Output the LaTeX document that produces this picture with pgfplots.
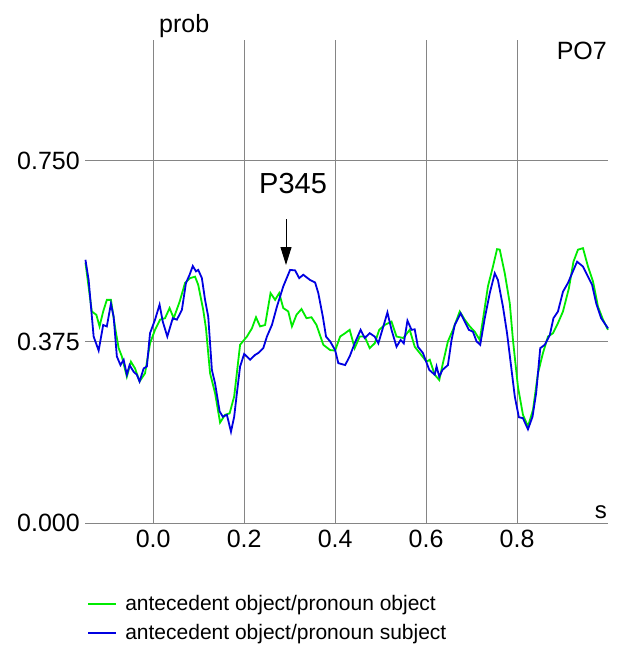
\documentclass[border=0pt]{standalone}
\usepackage{fontspec}
\setmainfont{Liberation Sans}
\usepackage{pgfplots}
\pgfplotsset{compat=1.18}
\usetikzlibrary{arrows.meta}
\definecolor{cgreen}{RGB}{0,235,0}
\definecolor{cblue}{RGB}{0,0,225}
\begin{document}
\begin{tikzpicture}[x=1pt,y=1pt]
\useasboundingbox (0,0) rectangle (620,-645);
\begin{axis}[
  at={(85pt,-523pt)}, anchor=south west,
  scale only axis, width=523pt, height=483pt,
  xmin=-0.15, xmax=1.0, ymin=0, ymax=1.0,
  axis line style={draw=none},
  xtick={0.2,0.4,0.6,0.8}, xticklabels={0.2,0.4,0.6,0.8},
  extra x ticks={0}, extra x tick labels={0.0},
  extra x tick style={grid style={color=black!62, line width=1pt}},
  ytick={0,0.375,0.75}, yticklabels={0.000,0.375,0.750},
  xmajorgrids, ymajorgrids,
  major grid style={color=black!48, line width=0.9pt},
  major tick length=0pt, tick style={draw=none},
  xticklabel style={font=\fontsize{25}{28}\selectfont, inner sep=0pt, anchor=north, yshift=-7pt},
  yticklabel style={font=\fontsize{25}{28}\selectfont, inner sep=0pt, anchor=east, xshift=-5pt},
  clip=false,
  legend cell align=left,
  legend image code/.code={\draw[#1] (0pt,0pt) -- (28pt,0pt);},
  legend style={at={(0.004,-0.15)}, anchor=north west, draw=none, fill=none,
    inner sep=0pt, row sep=12pt, font=\fontsize{21}{25}\selectfont,
    nodes={inner sep=0pt}, /tikz/every odd column/.append style={column sep=8pt}},
]
\addlegendimage{draw=cgreen, line width=2pt}
\addlegendentry{antecedent object/pronoun object}
\addlegendimage{draw=cblue, line width=2pt}
\addlegendentry{antecedent object/pronoun subject}
\addplot[cgreen, line width=1.8pt, forget plot] coordinates {
(-0.149,0.539) (-0.135,0.438) (-0.125,0.431) (-0.118,0.407) (-0.110,0.438) (-0.102,0.462) (-0.093,0.462)
(-0.083,0.400) (-0.076,0.362) (-0.069,0.345) (-0.058,0.303) (-0.049,0.334) (-0.040,0.320) (-0.030,0.293)
(-0.018,0.310) (-0.007,0.372) (0.004,0.400) (0.015,0.421) (0.026,0.424) (0.036,0.445) (0.045,0.424)
(0.058,0.458) (0.070,0.497) (0.081,0.507) (0.092,0.510) (0.099,0.493) (0.110,0.441) (0.116,0.403)
(0.125,0.310) (0.136,0.269) (0.147,0.208) (0.158,0.224) (0.168,0.227) (0.178,0.262) (0.191,0.369)
(0.206,0.386) (0.217,0.403) (0.226,0.426) (0.235,0.407) (0.246,0.410) (0.258,0.476) (0.268,0.462)
(0.277,0.476) (0.286,0.445) (0.297,0.438) (0.305,0.407) (0.315,0.431) (0.326,0.443) (0.337,0.424)
(0.348,0.426) (0.359,0.410) (0.374,0.369) (0.389,0.358) (0.400,0.357) (0.411,0.386) (0.422,0.393)
(0.432,0.400) (0.443,0.362) (0.454,0.386) (0.465,0.386) (0.476,0.362) (0.487,0.372) (0.497,0.400)
(0.509,0.410) (0.524,0.417) (0.535,0.386) (0.550,0.383) (0.564,0.400) (0.575,0.365) (0.586,0.352)
(0.601,0.334) (0.608,0.338) (0.619,0.307) (0.629,0.296) (0.637,0.331) (0.648,0.376) (0.659,0.400)
(0.674,0.438) (0.685,0.421) (0.696,0.407) (0.707,0.396) (0.718,0.379) (0.725,0.421) (0.736,0.490)
(0.747,0.531) (0.756,0.567) (0.762,0.566) (0.773,0.517) (0.784,0.455) (0.791,0.379) (0.802,0.282)
(0.813,0.224) (0.824,0.200) (0.835,0.234) (0.846,0.310) (0.857,0.352) (0.868,0.386) (0.879,0.393)
(0.890,0.414) (0.901,0.438) (0.914,0.486) (0.924,0.541) (0.934,0.566) (0.945,0.569) (0.956,0.531)
(0.967,0.500) (0.978,0.448) (0.989,0.421) (1.000,0.400)
};
\addplot[cblue, line width=1.8pt, forget plot] coordinates {
(-0.149,0.545) (-0.142,0.503) (-0.131,0.386) (-0.120,0.357) (-0.110,0.410) (-0.102,0.407) (-0.093,0.454)
(-0.087,0.427) (-0.080,0.345) (-0.072,0.327) (-0.065,0.338) (-0.058,0.307) (-0.052,0.327) (-0.043,0.313)
(-0.036,0.307) (-0.030,0.293) (-0.021,0.320) (-0.014,0.324) (-0.007,0.393) (0.004,0.421) (0.014,0.452)
(0.021,0.417) (0.031,0.386) (0.043,0.424) (0.052,0.421) (0.063,0.441) (0.072,0.497) (0.080,0.514)
(0.087,0.532) (0.094,0.521) (0.099,0.524) (0.107,0.507) (0.114,0.462) (0.121,0.427) (0.129,0.317)
(0.136,0.289) (0.146,0.231) (0.153,0.220) (0.162,0.224) (0.171,0.189) (0.178,0.220) (0.184,0.269)
(0.191,0.324) (0.200,0.350) (0.213,0.338) (0.224,0.348) (0.231,0.352) (0.242,0.362) (0.250,0.386)
(0.261,0.410) (0.272,0.448) (0.286,0.490) (0.301,0.524) (0.312,0.523) (0.321,0.507) (0.330,0.514)
(0.345,0.503) (0.356,0.498) (0.363,0.476) (0.373,0.427) (0.380,0.386) (0.389,0.376) (0.400,0.358)
(0.407,0.331) (0.422,0.327) (0.432,0.345) (0.443,0.372) (0.456,0.400) (0.465,0.383) (0.476,0.393)
(0.487,0.386) (0.495,0.372) (0.506,0.407) (0.515,0.436) (0.524,0.400) (0.535,0.365) (0.544,0.379)
(0.551,0.372) (0.559,0.419) (0.568,0.400) (0.575,0.401) (0.582,0.365) (0.593,0.352) (0.607,0.317)
(0.619,0.307) (0.623,0.324) (0.629,0.303) (0.636,0.317) (0.648,0.327) (0.656,0.379) (0.663,0.410)
(0.676,0.434) (0.685,0.417) (0.694,0.400) (0.703,0.396) (0.711,0.376) (0.719,0.369) (0.729,0.424)
(0.740,0.476) (0.751,0.517) (0.758,0.503) (0.769,0.448) (0.778,0.393) (0.787,0.324) (0.795,0.262)
(0.804,0.219) (0.813,0.217) (0.824,0.194) (0.834,0.220) (0.842,0.269) (0.851,0.362) (0.861,0.369)
(0.872,0.389) (0.880,0.424) (0.890,0.438) (0.901,0.479) (0.912,0.497) (0.921,0.517) (0.932,0.541)
(0.945,0.531) (0.956,0.510) (0.965,0.493) (0.974,0.455) (0.985,0.424) (1.000,0.403)
};
\end{axis}
\node[anchor=base west, inner sep=0pt, font=\fontsize{25}{28}\selectfont] at (159,-32) {prob};
\node[anchor=base east, inner sep=0pt, font=\fontsize{25}{28}\selectfont] at (607,-59) {PO7};
\node[anchor=base east, inner sep=0pt, font=\fontsize{24}{28}\selectfont] at (607,-518) {s};
\node[anchor=base west, inner sep=0pt, font=\fontsize{29}{33}\selectfont] at (259,-193) {P345};
\draw[line width=1pt, -{Triangle[length=18pt,width=11pt]}] (286,-219) -- (286,-265);
\end{tikzpicture}
\end{document}
